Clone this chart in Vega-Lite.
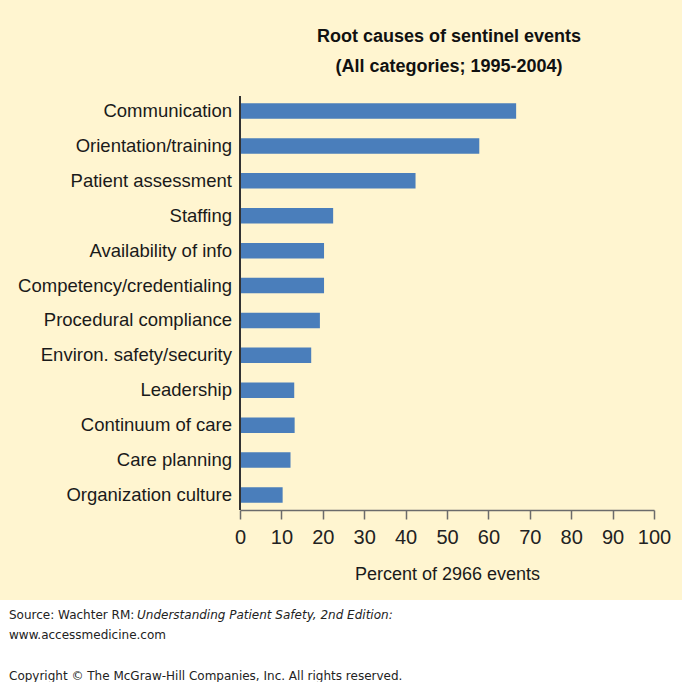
{
  "$schema": "https://vega.github.io/schema/vega-lite/v6.json",
  "background": "#FFF5D0",
  "padding": {"left": 0, "top": 28, "right": 0, "bottom": 0},
  "spacing": 17,
  "config": {"view": {"stroke": null}},
  "vconcat": [
    {
      "width": 682,
      "height": 414,
      "title": {
        "text": ["Root causes of sentinel events", "(All categories; 1995-2004)"],
        "font": "Liberation Sans",
        "fontSize": 18,
        "fontWeight": "bold",
        "lineHeight": 30,
        "color": "#111111",
        "anchor": "middle",
        "frame": "group",
        "dx": 108,
        "offset": 19
      },
      "data": {
        "values": [
          {"cause": "Communication", "pct": 66.7},
          {"cause": "Orientation/training", "pct": 57.8},
          {"cause": "Patient assessment", "pct": 42.4},
          {"cause": "Staffing", "pct": 22.5},
          {"cause": "Availability of info", "pct": 20.3},
          {"cause": "Competency/credentialing", "pct": 20.3},
          {"cause": "Procedural compliance", "pct": 19.3},
          {"cause": "Environ. safety/security", "pct": 17.2},
          {"cause": "Leadership", "pct": 13.1},
          {"cause": "Continuum of care", "pct": 13.2},
          {"cause": "Care planning", "pct": 12.2},
          {"cause": "Organization culture", "pct": 10.3}
        ]
      },
      "encoding": {
        "y": {
          "field": "cause",
          "type": "nominal",
          "sort": null,
          "scale": {"paddingInner": 0.556, "paddingOuter": 0.21},
          "axis": null
        }
      },
      "layer": [
        {
          "mark": {"type": "bar", "color": "#4A7EBB"},
          "encoding": {
            "x": {
              "field": "pct",
              "type": "quantitative",
              "scale": {"domain": [0, 100], "nice": false, "range": [240, 654]},
              "axis": {
                "title": "Percent of 2966 events",
                "titleFont": "Liberation Sans",
                "titleFontSize": 18,
                "titleFontWeight": "normal",
                "titleColor": "#1a1a1a",
                "titlePadding": 18,
                "values": [0, 10, 20, 30, 40, 50, 60, 70, 80, 90, 100],
                "grid": false,
                "domainColor": "#6b6b6b",
                "domainWidth": 1.5,
                "tickColor": "#6b6b6b",
                "tickWidth": 1.5,
                "tickSize": 9,
                "labelFont": "Liberation Sans",
                "labelFontSize": 20,
                "labelColor": "#222222",
                "labelPadding": 8,
                "labelFlush": false
              }
            }
          }
        },
        {
          "mark": {"type": "text", "align": "right", "baseline": "middle", "dx": -8, "font": "Liberation Sans", "fontSize": 18.5, "color": "#1a1a1a"},
          "encoding": {
            "x": {"datum": 0, "type": "quantitative"},
            "text": {"field": "cause"}
          }
        },
        {
          "mark": {"type": "rule", "color": "#333333", "strokeWidth": 1.5},
          "encoding": {
            "x": {"datum": 0, "type": "quantitative"},
            "y": null
          }
        }
      ]
    },
    {
      "width": 682,
      "height": 82,
      "view": {"fill": "white", "stroke": null},
      "data": {
        "values": [
          {"line": 1, "seg": 0, "text": "Source: Wachter RM:"},
          {"line": 1, "seg": 1, "text": "Understanding Patient Safety, 2nd Edition:"},
          {"line": 2, "seg": 0, "text": "www.accessmedicine.com"},
          {"line": 4, "seg": 0, "text": "Copyright © The McGraw-Hill Companies, Inc. All rights reserved."}
        ]
      },
      "encoding": {
        "x": {"field": "seg", "type": "quantitative", "scale": {"domain": [0, 1], "range": [9, 137]}, "axis": null},
        "y": {"field": "line", "type": "quantitative", "scale": {"domain": [1, 4], "range": [15, 76]}, "axis": null},
        "text": {"field": "text"}
      },
      "layer": [
        {
          "transform": [{"filter": "datum.seg == 0"}],
          "mark": {"type": "text", "align": "left", "baseline": "middle", "font": "DejaVu Sans", "fontSize": 12, "color": "#222222"}
        },
        {
          "transform": [{"filter": "datum.seg == 1"}],
          "mark": {"type": "text", "align": "left", "baseline": "middle", "font": "DejaVu Sans", "fontSize": 12, "fontStyle": "italic", "color": "#222222"}
        }
      ]
    }
  ]
}
